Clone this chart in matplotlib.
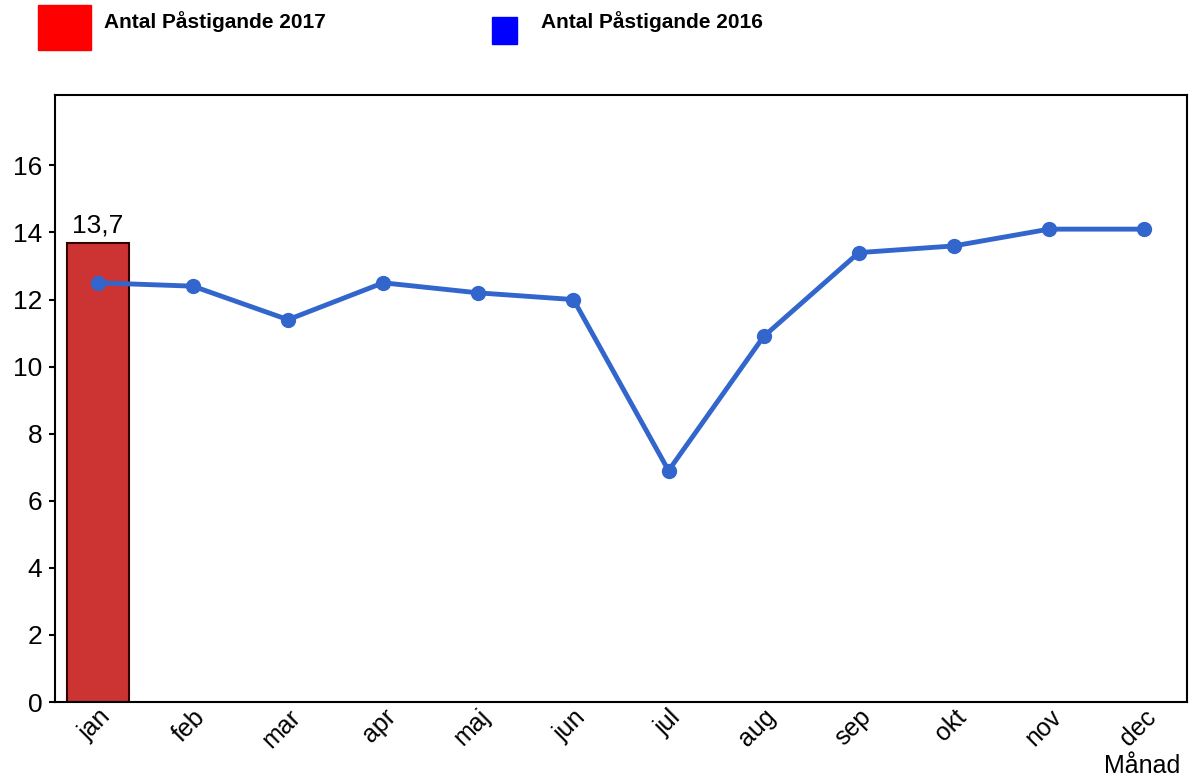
import matplotlib.pyplot as plt
import matplotlib.patches as mpatches

plt.rcParams['font.family'] = ['Liberation Sans', 'DejaVu Sans']

# data
months = ['jan', 'feb', 'mar', 'apr', 'maj', 'jun', 'jul', 'aug', 'sep', 'okt', 'nov', 'dec']
antal_2016 = [12.5, 12.4, 11.4, 12.5, 12.2, 12.0, 6.9, 10.9, 13.4, 13.6, 14.1, 14.1]
antal_2017 = [13.7]
bar_labels = ['13,7']

fig = plt.figure(figsize=(11.91, 7.78), dpi=100)
ax = fig.add_axes([55/1191, 76/778, 1132/1191, 607/778])

x = list(range(len(months)))
bars = ax.bar(x[:len(antal_2017)], antal_2017, width=0.65, color='#cc3333',
              edgecolor='#330000', linewidth=1.5, zorder=2)
for b, lab in zip(bars, bar_labels):
    ax.text(b.get_x() + b.get_width() / 2, b.get_height() + 0.15, lab,
            ha='center', va='bottom', fontsize=19)

ax.plot(x, antal_2016, color='#3366cc', lw=3.5, marker='o', ms=10, zorder=3)

ax.set_xlim(-0.45, 11.45)
ax.set_ylim(0, 18.1)
ax.set_yticks(range(0, 17, 2))
ax.set_xticks(x)
ax.set_xticklabels(months, rotation=45, fontsize=18, ha='right', rotation_mode='anchor')
ax.tick_params(axis='y', labelsize=19, length=4, width=1.5, pad=5)
ax.tick_params(axis='x', length=0, pad=2)
for s in ax.spines.values():
    s.set_linewidth(1.5)

fig.text(1180/1191, 0, 'Månad', ha='right', va='bottom', fontsize=18)

# legend drawn at top
fig.patches.append(mpatches.Rectangle((38/1191, 1 - 50/778), 53/1191, 45/778,
                                      transform=fig.transFigure, color='#ff0000'))
fig.patches.append(mpatches.Rectangle((492/1191, 1 - 44/778), 25/1191, 27/778,
                                      transform=fig.transFigure, color='#0000ff'))
fig.text(104/1191, 1 - 22/778, 'Antal Påstigande 2017', fontsize=15, fontweight='bold', va='center')
fig.text(541/1191, 1 - 22/778, 'Antal Påstigande 2016', fontsize=15, fontweight='bold', va='center')

plt.savefig('out.png', dpi=100)
